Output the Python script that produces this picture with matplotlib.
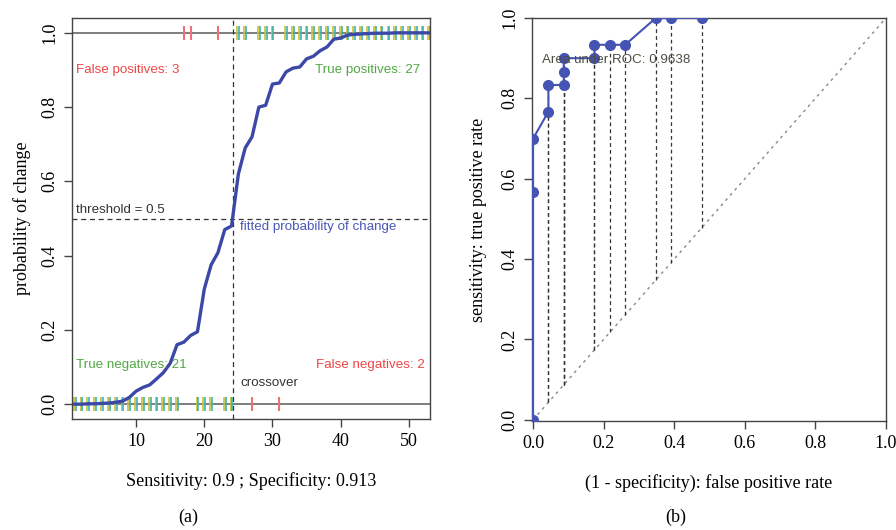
import numpy as np
import matplotlib
matplotlib.use("Agg")
import matplotlib.pyplot as plt
from matplotlib import transforms

# ---------------- data ----------------
obs_index = list(range(1, 54))
fitted_prob = [0.000, 0.000, 0.001, 0.001, 0.002, 0.003, 0.005, 0.008, 0.018, 0.035,
               0.045, 0.052, 0.068, 0.085, 0.110, 0.160, 0.167, 0.185, 0.195, 0.310,
               0.375, 0.408, 0.470, 0.480, 0.620, 0.690, 0.720, 0.800, 0.805, 0.862,
               0.865, 0.895, 0.905, 0.908, 0.930, 0.937, 0.952, 0.962, 0.983, 0.986,
               0.994, 0.996, 0.997, 0.998, 0.999, 0.999, 0.999, 1.000, 1.000, 1.000,
               1.000, 1.000, 1.000]
true_pos_x = [25, 26, 28, 29, 30] + list(range(32, 54))
false_pos_x = [17, 18, 22]
true_neg_x = list(range(1, 17)) + [19, 20, 21, 23, 24]
false_neg_x = [27, 31]
threshold = 0.5

roc_fpr = [0, 0, 0, 1/23, 1/23, 2/23, 2/23, 2/23, 4/23, 4/23, 5/23, 6/23, 8/23, 9/23, 11/23]
roc_tpr = [0, 17/30, 21/30, 23/30, 25/30, 25/30, 26/30, 27/30, 27/30, 28/30, 28/30, 28/30,
           1.0, 1.0, 1.0]
auc_value = 0.9638

# ---------------- style ----------------
serif = ["Liberation Serif", "DejaVu Serif"]
sans = ["Liberation Sans", "DejaVu Sans"]
plt.rcParams["font.family"] = serif
frame_col = "#444444"
blue = "#3b48a8"
green = "#52a744"
red = "#ee4545"
rug_yellow = "#cdbd3a"
rug_teal = "#3cb3b0"
rug_red = "#f0707a"
tick_fs = 13
lab_fs = 13
in_fs = 9.6

fig = plt.figure(figsize=(8.96, 5.30), dpi=100)
ax1 = fig.add_axes([72/896, 111/530, 358/896, 401/530])
ax2 = fig.add_axes([532/896, 109/530, 354/896, 403/530])

def style_axes(ax):
    for s in ax.spines.values():
        s.set_color(frame_col)
        s.set_linewidth(1.0)
    ax.tick_params(direction="out", length=6, width=1.0, color=frame_col,
                   labelsize=tick_fs, pad=4)
    for lab in ax.get_yticklabels():
        lab.set_rotation(90)
        lab.set_va("center")

# ---------------- panel (a) ----------------
ax1.set_xlim(0.6, 53.1)
ax1.set_ylim(-0.04, 1.04)
ax1.set_xticks([10, 20, 30, 40, 50])
ax1.set_yticks([0.0, 0.2, 0.4, 0.6, 0.8, 1.0])
ax1.set_yticklabels(["0.0", "0.2", "0.4", "0.6", "0.8", "1.0"])
style_axes(ax1)

ax1.axhline(0, color="#5a5a5a", lw=1.1, zorder=1)
ax1.axhline(1, color="#5a5a5a", lw=1.1, zorder=1)
ax1.axhline(threshold, color="#333333", lw=0.9, ls=(0, (4, 3)), zorder=1)
# crossover: where fitted prob crosses threshold
fp = np.array(fitted_prob)
ix = np.array(obs_index, dtype=float)
k = int(np.argmax(fp >= threshold))
cross_x = ix[k-1] + (threshold - fp[k-1]) / (fp[k] - fp[k-1]) * (ix[k] - ix[k-1])
ax1.axvline(cross_x, color="#333333", lw=0.9, ls=(0, (4, 3)), zorder=1)

h = 0.018
left = transforms.offset_copy(ax1.transData, fig=fig, x=-0.9, y=0, units="dots")
right = transforms.offset_copy(ax1.transData, fig=fig, x=0.9, y=0, units="dots")
for xs, yv in ((true_pos_x, 1.0), (true_neg_x, 0.0)):
    ax1.vlines(xs, yv - h, yv + h, colors=rug_yellow, lw=1.2, transform=left, zorder=2)
    ax1.vlines(xs, yv - h, yv + h, colors=rug_teal, lw=1.2, transform=right, zorder=2)
ax1.vlines(false_pos_x, 1 - h, 1 + h, colors=rug_red, lw=1.5, zorder=2)
ax1.vlines(false_neg_x, -h, h, colors=rug_red, lw=1.5, zorder=2)

ax1.plot(obs_index, fitted_prob, color=blue, lw=2.4, zorder=3, solid_joinstyle="round")

ax1.text(1.2, 0.90, "False positives: %d" % len(false_pos_x), color=red, fontsize=in_fs,
         family=sans, ha="left", va="center")
ax1.text(51.7, 0.90, "True positives: %d" % len(true_pos_x), color=green, fontsize=in_fs,
         family=sans, ha="right", va="center")
ax1.text(1.2, 0.524, "threshold = 0.5", color="#333333", fontsize=in_fs,
         family=sans, ha="left", va="center")
ax1.text(25.3, 0.476, "fitted probability of change", color="#4a58b8", fontsize=in_fs,
         family=sans, ha="left", va="center")
ax1.text(1.2, 0.105, "True negatives: %d" % len(true_neg_x), color=green, fontsize=in_fs,
         family=sans, ha="left", va="center")
ax1.text(52.4, 0.105, "False negatives: %d" % len(false_neg_x), color=red, fontsize=in_fs,
         family=sans, ha="right", va="center")
ax1.text(25.3, 0.056, "crossover", color="#333333", fontsize=in_fs,
         family=sans, ha="left", va="center")

sens = len(true_pos_x) / (len(true_pos_x) + len(false_pos_x))
spec = len(true_neg_x) / (len(true_neg_x) + len(false_neg_x))
ax1.set_xlabel("Sensitivity: %s ; Specificity: %s" % (round(sens, 3), round(spec, 3)),
               fontsize=lab_fs, labelpad=16)
ax1.set_ylabel("probability of change", fontsize=lab_fs, labelpad=7)

# ---------------- panel (b) ----------------
ax2.set_xlim(-0.003, 1.0)
ax2.set_ylim(-0.003, 1.0)
ax2.set_xticks([0, 0.2, 0.4, 0.6, 0.8, 1.0])
ax2.set_xticklabels(["0.0", "0.2", "0.4", "0.6", "0.8", "1.0"])
ax2.set_yticks([0, 0.2, 0.4, 0.6, 0.8, 1.0])
ax2.set_yticklabels(["0.0", "0.2", "0.4", "0.6", "0.8", "1.0"])
style_axes(ax2)

ax2.plot([0, 1], [0, 1], color="#888888", lw=1.0, ls=(0, (2, 3)), zorder=1)
for fx, ty in zip(roc_fpr, roc_tpr):
    if fx > 0:
        ax2.plot([fx, fx], [fx, ty], color="#333333", lw=0.9, ls=(0, (3, 2.5)), zorder=1)
ax2.plot(roc_fpr, roc_tpr, color="#4553b3", lw=1.5, marker="o", ms=7,
         mfc="#4553b3", mec="#4553b3", zorder=3)
ax2.text(0.025, 0.896, "Area under ROC: %.4f" % auc_value, color="#4d4d40", fontsize=in_fs,
         family=sans, ha="left", va="center", zorder=4)
ax2.set_xlabel("(1 - specificity): false positive rate", fontsize=lab_fs, labelpad=16)
ax2.set_ylabel("sensitivity: true positive rate", fontsize=lab_fs, labelpad=10)

fig.text(188/896, 1 - 517/530, "(a)", fontsize=lab_fs, ha="center", va="center")
fig.text(676/896, 1 - 517/530, "(b)", fontsize=lab_fs, ha="center", va="center")

fig.savefig("out.png", dpi=100)
